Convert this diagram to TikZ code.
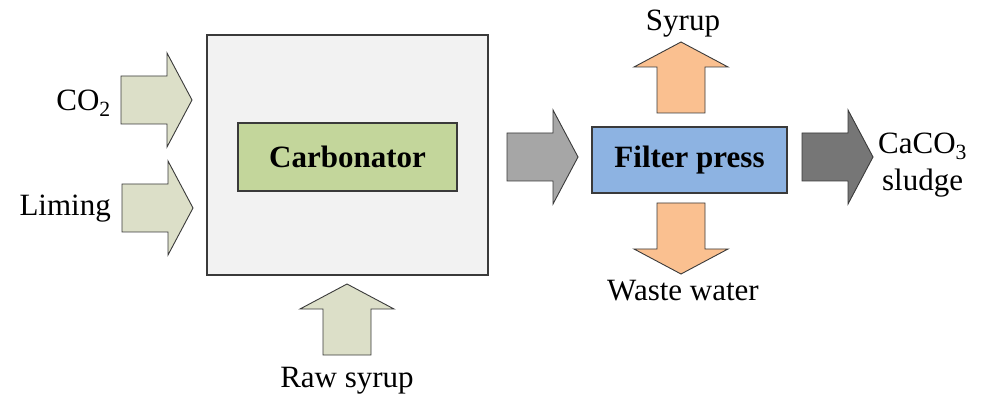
\documentclass[tikz,border=0pt]{standalone}
\usepackage{fontspec}
\setmainfont{Liberation Serif}
\usepackage{tikz}
\usetikzlibrary{positioning}
\definecolor{FeedArrow}{HTML}{DCDFC8}
\definecolor{CarbFill}{HTML}{C3D69B}
\definecolor{TankFill}{HTML}{F2F2F2}
\definecolor{PressFill}{HTML}{8DB3E2}
\definecolor{OutArrow}{HTML}{FAC090}
\definecolor{MidGray}{HTML}{A6A6A6}
\definecolor{DarkGray}{HTML}{767676}
\definecolor{EdgeLine}{HTML}{3A3A3A}

\tikzset{
  pics/flowarrow/.style={code={
    \draw[draw=EdgeLine, line width=0.9pt, line join=miter, fill=#1]
      (0,-24) -- (46,-24) -- (46,-47) -- (71,0) -- (46,47) -- (46,24)
      -- (0,24) -- cycle;
  }}
}

\begin{document}
\begin{tikzpicture}[
  x=1pt, y=1pt,
  every node/.style={font=\fontsize{31}{37}\selectfont},
  unit/.style={rectangle, draw=EdgeLine, line width=1.2pt, fill=#1,
               inner sep=0pt, font=\fontsize{31}{37}\selectfont\bfseries},
  label/.style={inner sep=0pt, align=center}
]
  \useasboundingbox (0,0) rectangle (981,399);

  \node[unit=TankFill, minimum width=281pt, minimum height=240pt] (tank)
    at (347.5,244) {};
  \node[unit=CarbFill, minimum width=219pt, minimum height=68pt] (carb)
    at (347.5,242) {Carbonator};
  \node[unit=PressFill, minimum width=195pt, minimum height=66pt] (press)
    at (689.5,239) {Filter press};

  \pic (co2in)  at (121,299) {flowarrow=FeedArrow};
  \pic (limein) at (122,191) {flowarrow=FeedArrow};
  \pic[rotate=90] (rawin) at (347,44) {flowarrow=FeedArrow};
  \pic (tofilter) at (507,242) {flowarrow=MidGray};
  \pic (sludgeout) at (802,242) {flowarrow=DarkGray};
  \pic[rotate=90] (syrupout) at (681,286) {flowarrow=OutArrow};
  \pic[rotate=-90] (wasteout) at (681,196) {flowarrow=OutArrow};

  \node[label, anchor=east] (co2) at (111,296) {CO\textsubscript{2}};
  \node[label, anchor=east] (lime) at (111,190) {Liming};
  \node[label] (raw) at (347,18) {Raw syrup};
  \node[label] (syrup) at (683,375) {Syrup};
  \node[label] (waste) at (683,108) {Waste water};
  \node[label, anchor=west] (sludge) at (878,234)
    {CaCO\textsubscript{3}\\sludge};
\end{tikzpicture}
\end{document}
